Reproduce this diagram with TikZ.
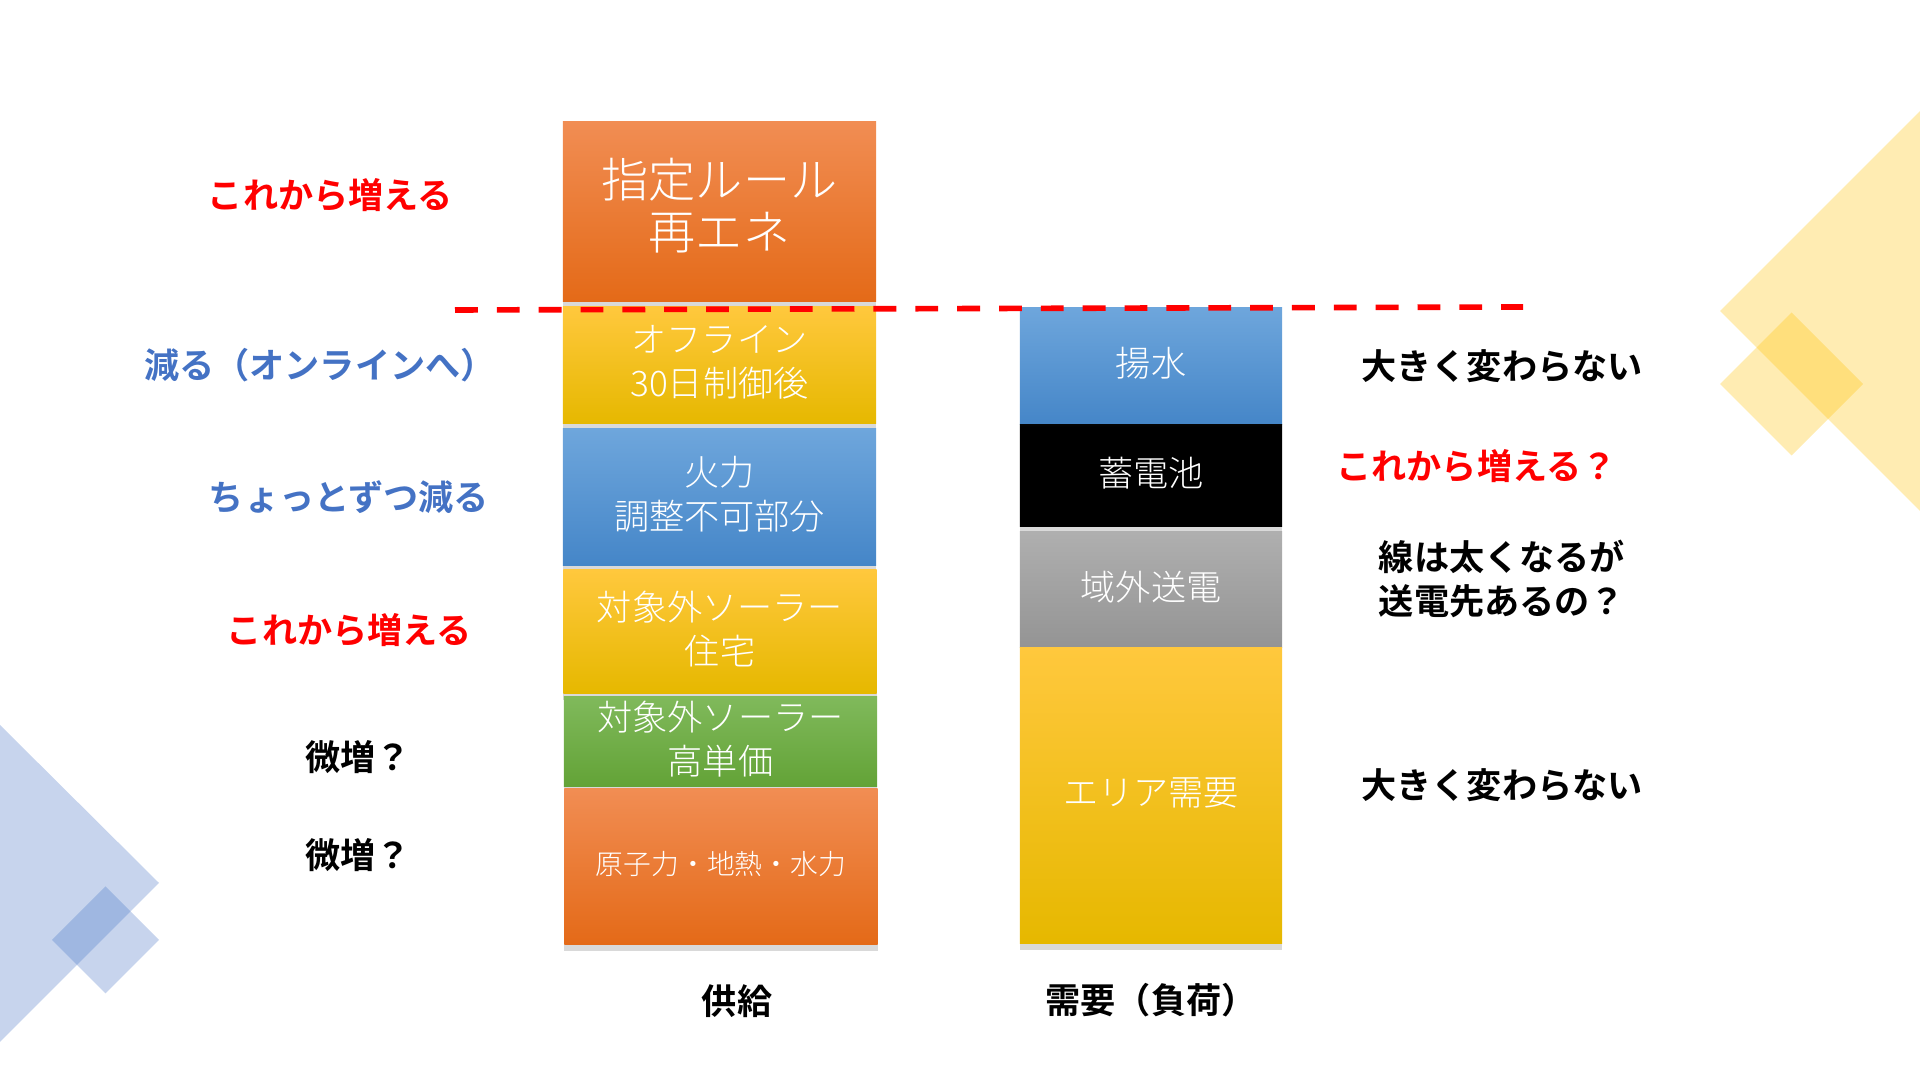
\documentclass[tikz,border=0pt]{standalone}
\usepackage{fontspec}
\setmainfont{Noto Sans CJK JP}
\newfontfamily\jplight{Noto Sans CJK JP Light}
\newfontfamily\jpbold{Noto Sans CJK JP Bold}
\usetikzlibrary{shadows}

\definecolor{orangeTop}{HTML}{F18D53}
\definecolor{orangeMid}{HTML}{F47C26}
\definecolor{orangeBot}{HTML}{E46A18}
\definecolor{yellowTop}{HTML}{FFC83D}
\definecolor{yellowMid}{HTML}{FFC400}
\definecolor{yellowBot}{HTML}{E6B800}
\definecolor{blueTop}{HTML}{6EA6DC}
\definecolor{blueMid}{HTML}{5B9BD5}
\definecolor{blueBot}{HTML}{4586C8}
\definecolor{greenTop}{HTML}{80B95B}
\definecolor{greenMid}{HTML}{70AD47}
\definecolor{greenBot}{HTML}{63A337}
\definecolor{grayTop}{HTML}{AFAFAF}
\definecolor{grayMid}{HTML}{A3A3A3}
\definecolor{grayBot}{HTML}{949494}
\definecolor{labelBlue}{HTML}{4472C4}
\definecolor{labelRed}{HTML}{FF0000}
\definecolor{decoYellow}{HTML}{FFC000}
\pgfdeclareverticalshading{batteryshade}{100bp}{color(0bp)=(black); color(74bp)=(black); color(100bp)=(black!73)}

\begin{document}
\begin{tikzpicture}[x=0.01cm, y=-0.01cm,
    bar/.style={inner sep=0pt, align=center, text=white, text depth=2.2pt,
        font=\jplight\fontsize{10}{12.5}\selectfont,
        drop shadow={shadow xshift=0pt, shadow yshift=-2pt, opacity=0.3}},
    supply/.style={bar, minimum width=3.13cm},
    demand/.style={bar, minimum width=2.62cm},
    orangebar/.style={top color=orangeTop, middle color=orangeMid, bottom color=orangeBot},
    yellowbar/.style={top color=yellowTop, middle color=yellowMid, bottom color=yellowBot},
    bluebar/.style={top color=blueTop, middle color=blueMid, bottom color=blueBot},
    greenbar/.style={top color=greenTop, middle color=greenMid, bottom color=greenBot},
    graybar/.style={top color=grayTop, middle color=grayMid, bottom color=grayBot},
    note/.style={font=\jpbold\fontsize{10}{12.5}\selectfont, align=center},
    cutline/.style={draw=labelRed, line width=1.6pt, dash pattern=on 6.5pt off 5.4pt}]
    \useasboundingbox (0,0) rectangle (1920,1080);

    % Background diamonds
    \fill[decoYellow, opacity=0.3] (1720,311) -- (1920,111) -- (1920,511) -- cycle;
    \fill[decoYellow, opacity=0.3] (1720,384) -- (1791.5,312.5) -- (1863,384) -- (1791.5,455.5) -- cycle;
    \fill[labelBlue, opacity=0.3] (0,725) -- (159,883) -- (0,1042) -- cycle;
    \fill[labelBlue, opacity=0.3] (52,940) -- (105.5,886.5) -- (159,940) -- (105.5,993.5) -- cycle;

    % Supply column
    \node[supply, orangebar, minimum height=1.79cm, text depth=4.4pt, font=\jplight\fontsize{13.4}{15}\selectfont] (rule) at (719.5,211.5) {指定ルール\\再エネ};
    \node[supply, yellowbar, minimum height=1.16cm] (offline) at (719.5,365) {オフライン\\30日制御後};
    \node[supply, bluebar, minimum height=1.36cm] (thermal) at (719.5,497) {火力\\調整不可部分};
    \node[supply, yellowbar, minimum height=1.23cm] (solarHome) at (720,631.5) {対象外ソーラー\\住宅};
    \node[supply, greenbar, minimum height=0.89cm] (solarHigh) at (720.5,741.5) {対象外ソーラー\\高単価};
    \node[supply, orangebar, minimum height=1.55cm, font=\jplight\fontsize{7.9}{10}\selectfont] (base) at (721,866.5) {原子力・地熱・水力};

    % Demand column
    \node[demand, bluebar, minimum height=1.165cm] (pump) at (1151,365.75) {揚水};
    \node[demand, shading=batteryshade, minimum height=1.01cm] (battery) at (1151,475.5) {蓄電池};
    \node[demand, graybar, minimum height=1.15cm] (export) at (1151,589.5) {域外送電};
    \node[demand, yellowbar, minimum height=2.95cm] (area) at (1151,795.5) {エリア需要};

    % Dashed cut line
    \coordinate (cutL) at (455,310);
    \coordinate (cutR) at (1523,307);
    \draw[cutline] (cutL) -- (cutR);

    % Notes on the left
    \node[note, text=labelRed] (ruleNote) at (330.5,195) {これから増える};
    \node[note, text=labelBlue] (offlineNote) at (320,365) {減る（オンラインへ）};
    \node[note, text=labelBlue] (thermalNote) at (349,497) {ちょっとずつ減る};
    \node[note, text=labelRed] (solarHomeNote) at (349.5,630) {これから増える};
    \node[note] (solarHighNote) at (358,757) {微増？};
    \node[note] (baseNote) at (358,855) {微増？};

    % Notes on the right
    \node[note] (pumpNote) at (1502,366) {大きく変わらない};
    \node[note, text=labelRed] (batteryNote) at (1476.5,466) {これから増える？};
    \node[note] (exportNote) at (1502,579) {線は太くなるが\\送電先あるの？};
    \node[note] (areaNote) at (1502,785) {大きく変わらない};

    % Column titles
    \node[note] (supplyTitle) at (737,1001) {供給};
    \node[note] (demandTitle) at (1151,1000) {需要（負荷）};
\end{tikzpicture}
\end{document}
